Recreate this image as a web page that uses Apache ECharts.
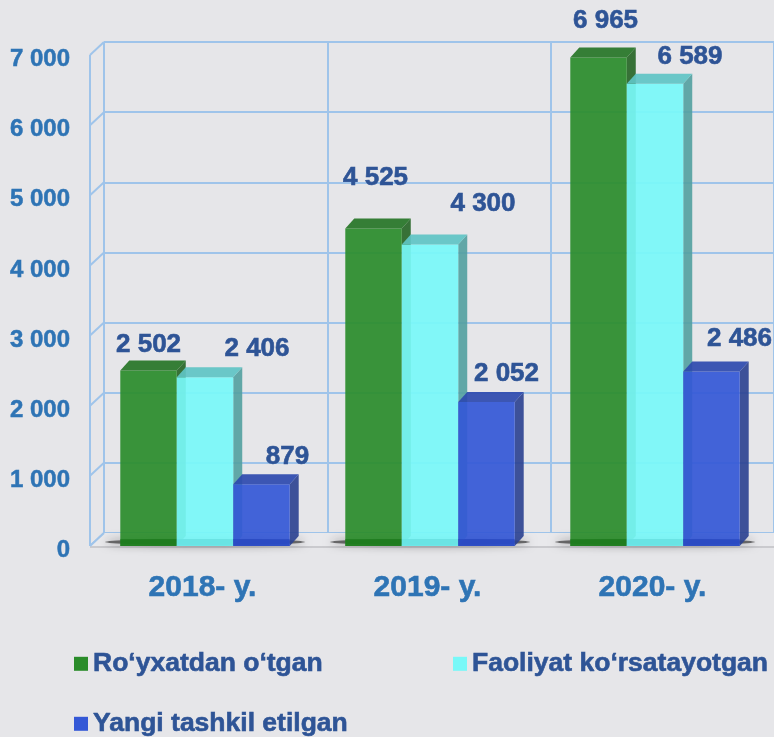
<!DOCTYPE html>
<html>
<head>
<meta charset="utf-8">
<script src="https://cdn.jsdelivr.net/npm/echarts@6/dist/echarts.min.js"></script>
<style>
  html, body { margin: 0; background: #e6e6e9; }
  #chart { width: 774px; height: 737px; }
</style>
</head>
<body>
<div id="chart"></div>
<script>
const years = ["2018- y.", "2019- y.", "2020- y."];
const registered = [2502, 4525, 6965];
const operating = [2406, 4300, 6589];
const newlyCreated = [879, 2052, 2486];
const yTicks = [0, 1000, 2000, 3000, 4000, 5000, 6000, 7000];
const names = ["Ro‘yxatdan o‘tgan", "Faoliyat ko‘rsatayotgan", "Yangi tashkil etilgan"];

// label nudges (px from bar top centre), layout only
const nudges = [
  [[0, -26], [2, -51], [7, -37]],
  [[52, -28], [53, -41], [35, -27]],
  [[26, -28], [20, -28], [28, -33]]
];
const faces = [
  { front: "#2a8c2a", top: "#267526", side: "#246424", shade: "#157515" },
  { front: "#78f8f8", top: "#5fc4c4", side: "#52a0a0", shade: "#62e0e0" },
  { front: "#3458d6", top: "#2e4aae", side: "#2a4090", shade: "#2343bd" }
];
const gridColor = "#9fc4ea";
const font = "'Liberation Sans', Arial, sans-serif";
const fmt = (v) => String(v).replace(/\B(?=(\d{3})+(?!\d))/g, " ");

function barRenderer(slot) {
  return function (params, api) {
    const i = api.value(0), v = api.value(1);
    const base = api.coord([i, 0]);
    const top = api.coord([i, v]);
    const w = api.size([1, 0])[0] * 0.251;
    const cx = base[0] + 2.5 + (slot - 1) * w;
    const x0 = cx - w / 2, x1 = cx + w / 2;
    const y0 = top[1], y1 = base[1];
    const dx = 9, dy = -10;
    const f = faces[slot];
    const n = nudges[slot][params.dataIndex];
    return {
      type: "group",
      children: [
        { type: "polygon", shape: { points: [[x1, y0], [x1 + dx, y0 + dy], [x1 + dx, y1 + dy], [x1, y1]] }, style: { fill: f.side, opacity: 0.9 } },
        { type: "rect", shape: { x: x0, y: y0, width: w, height: y1 - y0 }, style: { fill: f.front, opacity: 0.92 } },
        { type: "rect", shape: { x: x0, y: y1 - 7, width: w, height: 7 }, style: { fill: f.shade, opacity: 0.6 } },
        { type: "polygon", shape: { points: [[x0, y0], [x0 + dx, y0 + dy], [x1 + dx, y0 + dy], [x1, y0]] }, style: { fill: f.top, opacity: 0.92 } },
        {
          type: "text",
          style: {
            text: fmt(v), x: cx + n[0], y: y0 + n[1], align: "center", verticalAlign: "middle",
            fill: "#2e5496", stroke: "#2e5496", lineWidth: 0.6, font: "bold 26px " + font
          }
        }
      ]
    };
  };
}

function frameRenderer(params, api) {
  const cs = params.coordSys;
  const p = api.coord([0, api.value(1)]);
  const line = { stroke: gridColor, lineWidth: 2 };
  const children = [
    { type: "line", shape: { x1: cs.x, y1: p[1], x2: cs.x + 14, y2: p[1] - 13 }, style: line }
  ];
  if (params.dataIndex === 0) {
    const yb = p[1];
    children.push(
      { type: "polygon", shape: { points: [[cs.x, yb], [cs.x + cs.width + 30, yb], [cs.x + cs.width + 44, yb - 13], [cs.x + 14, yb - 13]] }, style: { fill: "#e9e9ec" } },
      { type: "line", shape: { x1: cs.x, y1: yb + 1, x2: cs.x + cs.width + 30, y2: yb + 1 }, style: { stroke: "#cacace", lineWidth: 2 } },
      { type: "line", shape: { x1: cs.x, y1: yb, x2: cs.x + 14, y2: yb - 13 }, style: line },
      { type: "line", shape: { x1: cs.x, y1: cs.y, x2: cs.x, y2: yb }, style: line }
    );
  }
  return { type: "group", children: children };
}

function shadowRenderer(params, api) {
  const base = api.coord([api.value(0), 0]);
  return {
    type: "ellipse",
    shape: { cx: base[0] + 2.5, cy: base[1] - 4, rx: 100, ry: 3 },
    style: { fill: "rgba(30,30,30,0.6)", shadowBlur: 10, shadowColor: "rgba(20,20,20,0.9)" }
  };
}

const chart = echarts.init(document.getElementById("chart"));
const option = {
  backgroundColor: "#e6e6e9",
  animation: false,
  grid: [
    { left: 90, right: 9, top: 55, bottom: 191 },
    { left: 104, right: -5, top: 42, bottom: 204 }
  ],
  xAxis: [
    {
      type: "category", gridIndex: 0, data: years,
      axisLine: { show: false }, axisTick: { show: false }, splitLine: { show: false },
      axisLabel: {
        margin: 27, fontSize: 30, fontWeight: "bold", color: "#2e74b5", fontFamily: font,
        textBorderColor: "#2e74b5", textBorderWidth: 0.6
      }
    },
    {
      type: "category", gridIndex: 1, data: years,
      axisLine: { show: false }, axisTick: { show: false }, axisLabel: { show: false },
      splitLine: { show: true, lineStyle: { color: gridColor, width: 2 } }
    }
  ],
  yAxis: [
    {
      type: "value", gridIndex: 0, min: 0, max: 7000, interval: 1000,
      axisLine: { show: false }, axisTick: { show: false }, splitLine: { show: false },
      axisLabel: {
        margin: 20,
        formatter: (v) => "{t|" + fmt(v) + "}",
        rich: {
          t: {
            fontSize: 24, fontWeight: "bold", color: "#2e74b5", fontFamily: font,
            textBorderColor: "#2e74b5", textBorderWidth: 0.5, padding: [9, 0, 0, 0]
          }
        }
      }
    },
    {
      type: "value", gridIndex: 1, min: 0, max: 7000, interval: 1000,
      axisLine: { show: false }, axisTick: { show: false }, axisLabel: { show: false },
      splitLine: { show: true, lineStyle: { color: gridColor, width: 2 } }
    }
  ],
  legend: names.map((name, k) => ({
    data: [name],
    left: k === 1 ? 453 : 74,
    top: k === 2 ? 710 : 650,
    padding: 0,
    icon: "rect",
    itemWidth: 14,
    itemHeight: 14,
    textStyle: {
      fontSize: 26.5, fontWeight: "bold", color: "#2e5496", fontFamily: font,
      textBorderColor: "#2e5496", textBorderWidth: 0.6
    }
  })),
  series: [
    {
      type: "custom", name: "frame", z: 1, silent: true,
      renderItem: frameRenderer,
      data: yTicks.map((v) => [0, v])
    },
    {
      type: "custom", name: "shadow", z: 1, silent: true,
      renderItem: shadowRenderer,
      data: years.map((_, i) => [i, 0])
    },
    {
      type: "custom", name: names[0], z: 3, renderItem: barRenderer(0),
      itemStyle: { color: faces[0].front },
      data: registered.map((v, i) => [i, v])
    },
    {
      type: "custom", name: names[1], z: 3, renderItem: barRenderer(1),
      itemStyle: { color: faces[1].front },
      data: operating.map((v, i) => [i, v])
    },
    {
      type: "custom", name: names[2], z: 3, renderItem: barRenderer(2),
      itemStyle: { color: faces[2].front },
      data: newlyCreated.map((v, i) => [i, v])
    }
  ]
};
chart.setOption(option);
</script>
</body>
</html>
